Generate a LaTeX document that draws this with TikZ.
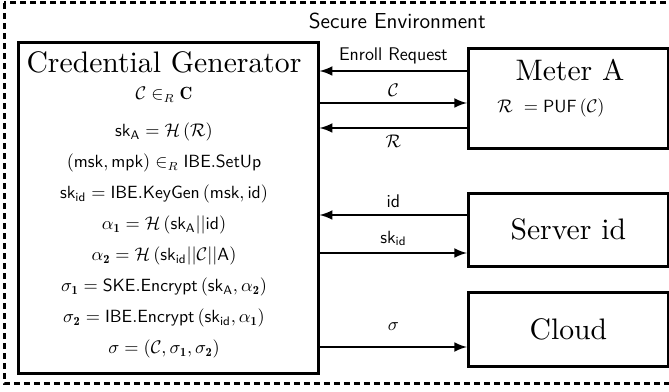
\documentclass[tikz,border=0pt]{standalone}
\usepackage{amsmath,amssymb}
\usepackage{fontspec}
\usepackage{tikz}
\usetikzlibrary{arrows, positioning}
\newfontfamily\titlefont{lmroman10-regular.otf}
\newcommand{\skey}[1]{\mathsf{sk}_{\mathsf{#1}}}

\tikzset{
    box/.style={draw, rectangle, line width=1.6pt, minimum width=120pt, anchor=north west},
    boxtitle/.style={font=\titlefont\fontsize{17.8}{21}\selectfont},
    flow/.style={line width=1.6pt, -latex},
    msg/.style={font=\sffamily\fontsize{11}{13}\selectfont}
}

\begin{document}
\begin{tikzpicture}[x=0.6pt, y=-0.6pt, font=\fontsize{10.6}{12.7}\selectfont]
    \clip (0,0) rectangle (669,392);
    \draw[line width=1.8pt, dash pattern=on 3.6pt off 2.4pt] (4,3) rectangle (700,383);
    \node[font=\sffamily\fontsize{13}{15}\selectfont, anchor=west] (env) at (303,21) {Secure Environment};

    % generator
    \node[box, minimum width=180pt, minimum height=198.6pt] (gen) at (17,41) {};
    \node[boxtitle] (gentitle) at (164,62) {Credential Generator};
    \node[anchor=north, align=center, execute at begin node={\setlength{\baselineskip}{18.6pt}}] (gensteps) at (164,81) {
        $\mathcal{C} \in_R \mathbf{C}$ \\[3.6pt]
        $\skey{A} = \mathcal{H}\left(\mathcal{R}\right)$ \\
        $(\mathsf{msk}, \mathsf{mpk}) \in_R \mathsf{IBE.SetUp}$ \\
        $\skey{id} = \mathsf{IBE.KeyGen}\left(\mathsf{msk}, \mathsf{id}\right)$ \\
        $\alpha_{\mathbf{1}} = \mathcal{H}\left(\skey{A}||\mathsf{id}\right)$ \\
        $\alpha_{\mathbf{2}} = \mathcal{H}\left(\skey{id}||\mathcal{C}||\mathsf{A}\right)$ \\
        $\sigma_{\mathbf{1}} = \mathsf{SKE.Encrypt}\left(\skey{A}, \alpha_{\mathbf{2}}\right)$ \\
        $\sigma_{\mathbf{2}} = \mathsf{IBE.Encrypt}\left(\skey{id}, \alpha_{\mathbf{1}}\right)$ \\
        $\sigma = \left(\mathcal{C}, \sigma_{\mathbf{1}}, \sigma_{\mathbf{2}}\right)$
    };

    % meter, server, cloud
    \node[box, minimum height=60pt] (meter) at (467,47) {};
    \node[boxtitle] (metertitle) at (570,70) {Meter A};
    \node (puf) at (551,108) {$\mathcal{R}\ = \mathsf{PUF}\left(\mathcal{C}\right)$};
    \node[box, boxtitle, minimum height=43.8pt] (server) at (467,192) {Server id};
    \node[box, boxtitle, minimum height=44.4pt] (cloud) at (467,291) {Cloud};

    % messages
    \draw[flow] (meter.west |- 0,71) -- node[msg, above] (enroll) {Enroll Request} (gen.east |- 0,71);
    \draw[flow] (gen.east |- 0,103) -- node[above] (chal) {$\mathcal{C}$} (meter.west |- 0,103);
    \draw[flow] (meter.west |- 0,128) -- node[below] (resp) {$\mathcal{R}$} (gen.east |- 0,128);
    \draw[flow] (server.west |- 0,215) -- node[msg, above] (ident) {id} (gen.east |- 0,215);
    \draw[flow] (gen.east |- 0,253) -- node[above] (skid) {$\skey{id}$} (server.west |- 0,253);
    \draw[flow] (gen.east |- 0,347) -- node[above=6pt] (sig) {$\sigma$} (cloud.west |- 0,347);
\end{tikzpicture}
\end{document}
